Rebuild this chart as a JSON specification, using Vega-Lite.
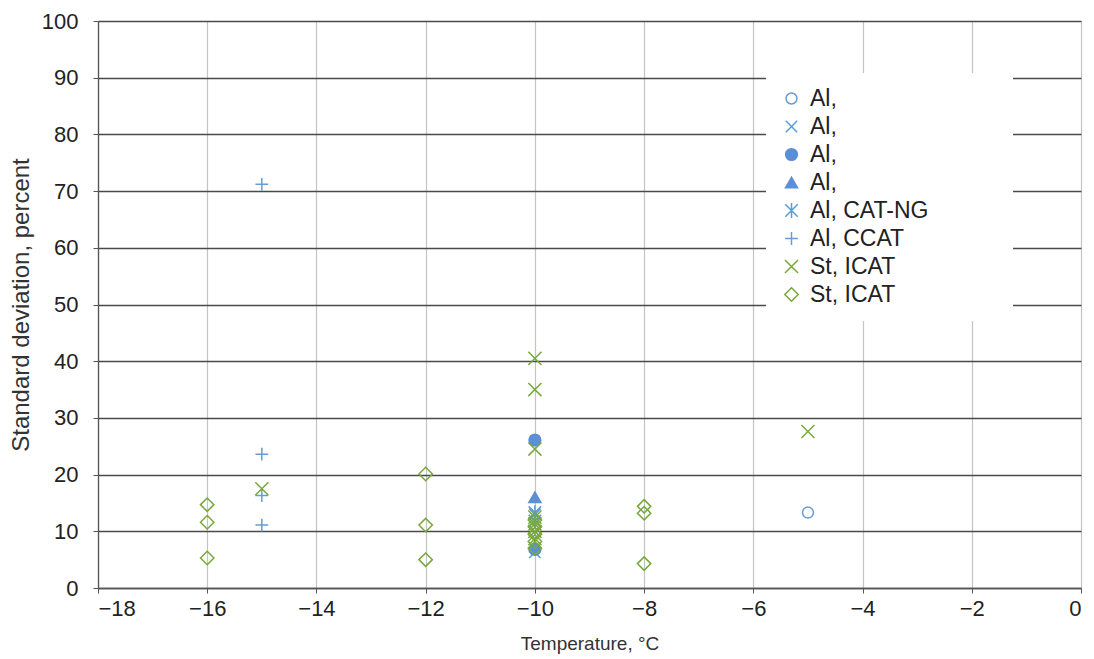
{
  "$schema": "https://vega.github.io/schema/vega-lite/v6.json",
  "width": 983,
  "height": 567,
  "autosize": {"type": "none"},
  "padding": {"left": 98, "top": 21, "right": 13, "bottom": 71},
  "background": "white",
  "config": {"view": {"stroke": null}, "font": "Liberation Sans"},
  "data": {"values": [
    {"series": "1|Al,", "temp": -5, "sd": 13.3},
    {"series": "2|Al,", "temp": -10, "sd": 13.0},
    {"series": "2|Al,", "temp": -10, "sd": 6.3},
    {"series": "3|Al,", "temp": -10, "sd": 26.1},
    {"series": "3|Al,", "temp": -10, "sd": 6.8},
    {"series": "4|Al,", "temp": -10, "sd": 16.0},
    {"series": "5|Al, CAT-NG", "temp": -10, "sd": 13.3},
    {"series": "5|Al, CAT-NG", "temp": -10, "sd": 11.8},
    {"series": "6|Al, CCAT", "temp": -15, "sd": 71.2},
    {"series": "6|Al, CCAT", "temp": -15, "sd": 23.6},
    {"series": "6|Al, CCAT", "temp": -15, "sd": 16.3},
    {"series": "6|Al, CCAT", "temp": -15, "sd": 11.1},
    {"series": "7|St, ICAT", "temp": -10, "sd": 40.5},
    {"series": "7|St, ICAT", "temp": -10, "sd": 35.0},
    {"series": "7|St, ICAT", "temp": -10, "sd": 24.5},
    {"series": "7|St, ICAT", "temp": -10, "sd": 12.5},
    {"series": "7|St, ICAT", "temp": -10, "sd": 11.3},
    {"series": "7|St, ICAT", "temp": -10, "sd": 10.0},
    {"series": "7|St, ICAT", "temp": -10, "sd": 8.7},
    {"series": "7|St, ICAT", "temp": -15, "sd": 17.5},
    {"series": "7|St, ICAT", "temp": -5, "sd": 27.6},
    {"series": "8|St, ICAT", "temp": -16, "sd": 14.7},
    {"series": "8|St, ICAT", "temp": -16, "sd": 11.6},
    {"series": "8|St, ICAT", "temp": -16, "sd": 5.3},
    {"series": "8|St, ICAT", "temp": -12, "sd": 20.1},
    {"series": "8|St, ICAT", "temp": -12, "sd": 11.1},
    {"series": "8|St, ICAT", "temp": -12, "sd": 5.0},
    {"series": "8|St, ICAT", "temp": -10, "sd": 12.0},
    {"series": "8|St, ICAT", "temp": -10, "sd": 10.8},
    {"series": "8|St, ICAT", "temp": -10, "sd": 9.5},
    {"series": "8|St, ICAT", "temp": -10, "sd": 8.2},
    {"series": "8|St, ICAT", "temp": -10, "sd": 7.0},
    {"series": "8|St, ICAT", "temp": -8, "sd": 14.4},
    {"series": "8|St, ICAT", "temp": -8, "sd": 13.2},
    {"series": "8|St, ICAT", "temp": -8, "sd": 4.3}
  ]},
  "mark": {"type": "point", "filled": true, "strokeWidth": 1.5, "opacity": 1},
  "encoding": {
    "x": {
      "field": "temp", "type": "quantitative",
      "scale": {"domain": [-18, 0], "nice": false, "zero": false},
      "axis": {
        "values": [-18, -16, -14, -12, -10, -8, -6, -4, -2, 0],
        "title": "Temperature, °C",
        "grid": true, "gridColor": "#c4c4c4", "gridWidth": 1.2,
        "domainColor": "#555", "domainWidth": 1.3,
        "tickColor": "#555", "tickSize": 5,
        "labelFontSize": 22, "labelColor": "#222", "labelPadding": 5,
        "titleFontSize": 19, "titleFontWeight": "normal", "titleColor": "#333", "titlePadding": 15
      }
    },
    "y": {
      "field": "sd", "type": "quantitative",
      "scale": {"domain": [0, 100], "nice": false},
      "axis": {
        "values": [0, 10, 20, 30, 40, 50, 60, 70, 80, 90, 100],
        "title": "Standard deviation, percent",
        "grid": true, "gridColor": "#4a4a4a", "gridWidth": 1.3,
        "domainColor": "#555", "domainWidth": 1.3,
        "tickColor": "#555", "tickSize": 5,
        "labelFontSize": 22, "labelColor": "#222", "labelPadding": 15,
        "titleFontSize": 24, "titleFontWeight": "normal", "titleColor": "#333", "titlePadding": 8
      }
    },
    "shape": {
      "field": "series", "type": "nominal",
      "scale": {
        "domain": ["1|Al,", "2|Al,", "3|Al,", "4|Al,", "5|Al, CAT-NG", "6|Al, CCAT", "7|St, ICAT", "8|St, ICAT"],
        "range": ["circle", "M-1,-1L1,1M-1,1L1,-1", "circle", "triangle-up", "M-1,-1L1,1M-1,1L1,-1M0,-1.2L0,1.2", "M-1,0L1,0M0,-1L0,1", "M-1,-1L1,1M-1,1L1,-1", "diamond"]
      },
      "legend": {
        "orient": "none", "legendX": 668, "legendY": 52, "title": null,
        "fillColor": "white", "strokeColor": null, "padding": 14,
        "labelFontSize": 23, "labelColor": "#222", "labelOffset": 7, "labelLimit": 500,
        "rowPadding": 4, "symbolStrokeWidth": 1.5,
        "labelExpr": "split(datum.value, '|')[1] + '\u00a0\u00a0\u00a0\u00a0\u00a0\u00a0\u00a0\u00a0\u00a0\u00a0\u00a0\u200b'"
      }
    },
    "stroke": {
      "field": "series", "type": "nominal",
      "scale": {
        "domain": ["1|Al,", "2|Al,", "3|Al,", "4|Al,", "5|Al, CAT-NG", "6|Al, CCAT", "7|St, ICAT", "8|St, ICAT"],
        "range": ["#6a9bd2", "#5b9bd5", "#5b8fd6", "#5b8fd6", "#5b9bd5", "#6a9bd2", "#77a83c", "#77a83c"]
      },
      "legend": {
        "orient": "none", "legendX": 668, "legendY": 52, "title": null,
        "fillColor": "white", "strokeColor": null, "padding": 14,
        "labelFontSize": 23, "labelColor": "#222", "labelOffset": 7, "labelLimit": 500,
        "rowPadding": 4, "symbolStrokeWidth": 1.5,
        "labelExpr": "split(datum.value, '|')[1] + '\u00a0\u00a0\u00a0\u00a0\u00a0\u00a0\u00a0\u00a0\u00a0\u00a0\u00a0\u200b'"
      }
    },
    "fill": {
      "field": "series", "type": "nominal",
      "scale": {
        "domain": ["1|Al,", "2|Al,", "3|Al,", "4|Al,", "5|Al, CAT-NG", "6|Al, CCAT", "7|St, ICAT", "8|St, ICAT"],
        "range": ["transparent", "transparent", "#5b8fd6", "#5b8fd6", "transparent", "transparent", "transparent", "transparent"]
      },
      "legend": {
        "orient": "none", "legendX": 668, "legendY": 52, "title": null,
        "fillColor": "white", "strokeColor": null, "padding": 14,
        "labelFontSize": 23, "labelColor": "#222", "labelOffset": 7, "labelLimit": 500,
        "rowPadding": 4, "symbolStrokeWidth": 1.5,
        "labelExpr": "split(datum.value, '|')[1] + '\u00a0\u00a0\u00a0\u00a0\u00a0\u00a0\u00a0\u00a0\u00a0\u00a0\u00a0\u200b'"
      }
    },
    "size": {
      "field": "series", "type": "nominal",
      "scale": {
        "domain": ["1|Al,", "2|Al,", "3|Al,", "4|Al,", "5|Al, CAT-NG", "6|Al, CCAT", "7|St, ICAT", "8|St, ICAT"],
        "range": [120, 180, 150, 180, 190, 210, 240, 150]
      },
      "legend": {
        "orient": "none", "legendX": 668, "legendY": 52, "title": null,
        "fillColor": "white", "strokeColor": null, "padding": 14,
        "labelFontSize": 23, "labelColor": "#222", "labelOffset": 7, "labelLimit": 500,
        "rowPadding": 4, "symbolStrokeWidth": 1.5,
        "labelExpr": "split(datum.value, '|')[1] + '\u00a0\u00a0\u00a0\u00a0\u00a0\u00a0\u00a0\u00a0\u00a0\u00a0\u00a0\u200b'"
      }
    }
  }
}
